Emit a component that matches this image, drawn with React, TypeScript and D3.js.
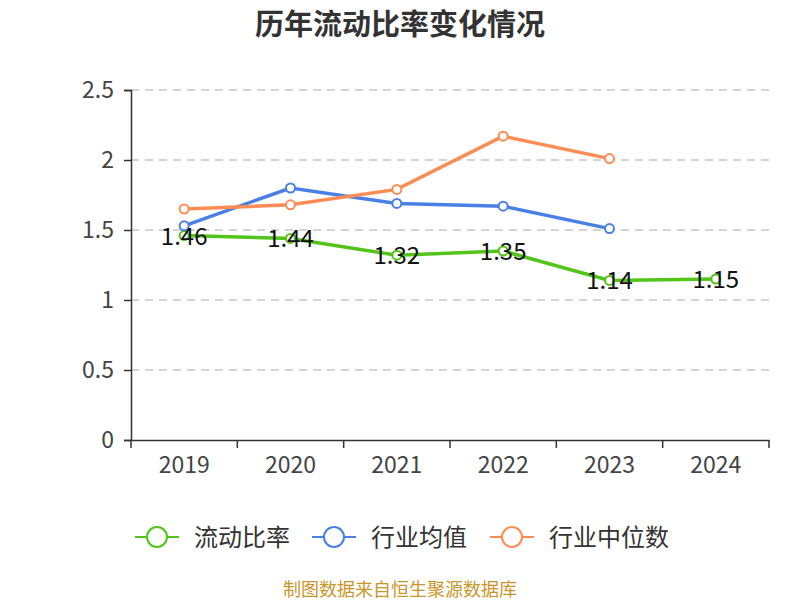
import * as d3 from "d3";
import React, { useRef, useEffect } from "react";

const years = ["2019", "2020", "2021", "2022", "2023", "2024"];
const currentRatio = [1.46, 1.44, 1.32, 1.35, 1.14, 1.15];
const industryAvg = [1.53, 1.8, 1.69, 1.67, 1.51];
const industryMedian = [1.65, 1.68, 1.79, 2.17, 2.01];
const yTicks = [0, 0.5, 1, 1.5, 2, 2.5];

const seriesList = [
  { name: "流动比率", values: currentRatio, color: "#52c41a" },
  { name: "行业均值", values: industryAvg, color: "#4a80e6" },
  { name: "行业中位数", values: industryMedian, color: "#ff8c55" },
];

const font = "'Noto Sans CJK SC', 'Noto Sans', sans-serif";

const App = () => {
  const svgRef = useRef(null);

  useEffect(() => {
    const svg = d3.select(svgRef.current);
    svg.selectAll("*").remove();

    const left = 131;
    const right = 769;
    const top = 90;
    const bottom = 440;

    const x = d3.scaleBand().domain(years).range([left, right]);
    const y = d3.scaleLinear().domain([0, 2.5]).range([bottom, top]);
    const cx = (i: number) => (x(years[i]) as number) + x.bandwidth() / 2;

    // title
    svg
      .append("text")
      .attr("x", 400)
      .attr("y", 35)
      .attr("text-anchor", "middle")
      .style("font-family", font)
      .style("font-size", "29px")
      .style("font-weight", "bold")
      .style("fill", "#333")
      .text("历年流动比率变化情况");

    // grid
    svg
      .append("g")
      .selectAll("line")
      .data(yTicks.filter((t) => t > 0))
      .join("line")
      .attr("x1", left)
      .attr("x2", right)
      .attr("y1", (d) => y(d))
      .attr("y2", (d) => y(d))
      .attr("stroke", "#c8c8c8")
      .attr("stroke-width", 1.5)
      .attr("stroke-dasharray", "8,6");

    // y axis
    const yAxis = svg
      .append("g")
      .attr("transform", `translate(${left},0)`)
      .call(d3.axisLeft(y).tickValues(yTicks).tickSize(7).tickPadding(10).tickFormat((d) => String(d)));
    yAxis.select(".domain").attr("stroke", "#333").attr("stroke-width", 1.5);
    yAxis.selectAll(".tick line").attr("stroke", "#333").attr("stroke-width", 1.5);
    yAxis
      .selectAll(".tick text")
      .style("font-family", font)
      .style("font-size", "23px")
      .style("fill", "#444");

    // x axis
    const xAxis = svg
      .append("g")
      .attr("transform", `translate(0,${bottom})`)
      .call(d3.axisBottom(x).tickSize(0).tickPadding(17).tickSizeOuter(0));
    xAxis.select(".domain").attr("stroke", "#333").attr("stroke-width", 1.5);
    xAxis
      .selectAll(".tick text")
      .style("font-family", font)
      .style("font-size", "23px")
      .style("fill", "#444");
    xAxis
      .append("g")
      .selectAll("line")
      .data(d3.range(years.length + 1))
      .join("line")
      .attr("x1", (i) => left + i * x.bandwidth())
      .attr("x2", (i) => left + i * x.bandwidth())
      .attr("y1", 0)
      .attr("y2", 8)
      .attr("stroke", "#333")
      .attr("stroke-width", 1.5);

    const line = d3
      .line<number>()
      .x((_d, i) => cx(i))
      .y((d) => y(d));

    seriesList.forEach((s) => {
      const g = svg.append("g");
      g.append("path")
        .datum(s.values)
        .attr("d", line)
        .attr("fill", "none")
        .attr("stroke", s.color)
        .attr("stroke-width", 3.5);
      g.selectAll("circle")
        .data(s.values)
        .join("circle")
        .attr("cx", (_d, i) => cx(i))
        .attr("cy", (d) => y(d))
        .attr("r", 4.5)
        .attr("fill", "#fff")
        .attr("stroke", s.color)
        .attr("stroke-width", 2);
    });

    // value labels
    svg
      .append("g")
      .selectAll("text")
      .data(currentRatio)
      .join("text")
      .attr("x", (_d, i) => cx(i))
      .attr("y", (d) => y(d) + 9)
      .attr("text-anchor", "middle")
      .style("font-family", font)
      .style("font-size", "24px")
      .style("fill", "#111")
      .text((d) => d.toFixed(2));

    // legend
    const legendX = [135, 312, 490];
    seriesList.forEach((s, i) => {
      const g = svg.append("g").attr("transform", `translate(${legendX[i]},537)`);
      g.append("line")
        .attr("x1", 0)
        .attr("x2", 44)
        .attr("stroke", s.color)
        .attr("stroke-width", 2);
      g.append("circle")
        .attr("cx", 22)
        .attr("r", 10)
        .attr("fill", "#fff")
        .attr("stroke", s.color)
        .attr("stroke-width", 2);
      g.append("text")
        .attr("x", 59)
        .attr("y", 9)
        .style("font-family", font)
        .style("font-size", "24px")
        .style("fill", "#333")
        .text(s.name);
    });

    // source
    svg
      .append("text")
      .attr("x", 400)
      .attr("y", 596)
      .attr("text-anchor", "middle")
      .style("font-family", font)
      .style("font-size", "18px")
      .style("fill", "#c9962a")
      .text("制图数据来自恒生聚源数据库");
  }, []);

  return (
    <svg
      ref={svgRef}
      width={800}
      height={600}
      style={{ position: "absolute", left: 0, top: 0, background: "#fff" }}
    ></svg>
  );
};

export default App;
